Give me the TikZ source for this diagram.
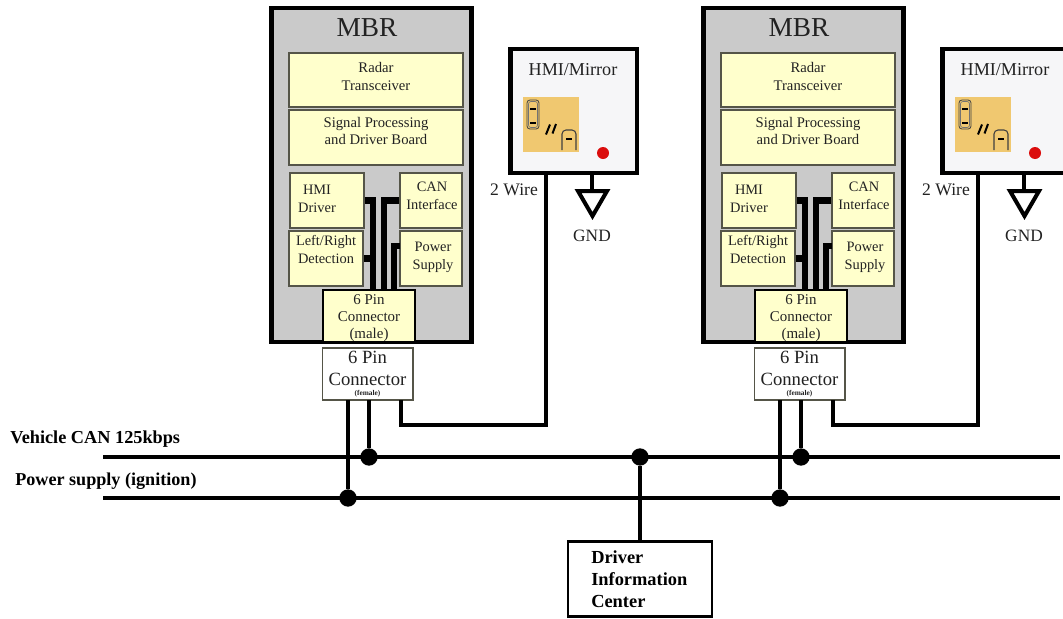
\documentclass[tikz,border=0pt]{standalone}
\usepackage{fontspec}
\setmainfont{Liberation Serif}
\definecolor{boxyellow}{HTML}{FFFFCC}
\definecolor{mbrgrey}{HTML}{CACACA}
\definecolor{hmibg}{HTML}{F6F6F8}
\definecolor{iconor}{HTML}{F0C870}
\definecolor{inkc}{HTML}{222222}
\definecolor{edgec}{HTML}{555548}
\newcommand{\fpx}[1]{\fontsize{#1}{#1}\selectfont}
\tikzset{
  x=0.75pt,y=-0.75pt,
  yb/.style={draw=edgec,line width=1.1pt,fill=boxyellow,inner sep=0pt},
  txt/.style={text=inkc,align=center,inner sep=0pt},
  wire/.style={line width=3pt,draw=black},
  inwire/.style={line width=4.8pt,draw=black},
  bus/.style={line width=2.9pt,draw=black},
  dot/.style={circle,fill=black,inner sep=0pt,minimum size=13pt},
}
\begin{document}
\begin{tikzpicture}[line join=miter]
\useasboundingbox (0,0) rectangle (1063,618);
\clip (0,0) rectangle (1063,618);
\fill[white] (0,0) rectangle (1063,618);

% buses
\coordinate (canL) at (103,457);
\coordinate (canR) at (1060,457);
\coordinate (pwrL) at (103,498);
\coordinate (pwrR) at (1060,498);
\draw[bus] (canL) -- (canR);
\draw[bus] (pwrL) -- (pwrR);
\node[anchor=west,inner sep=0pt,text=black,font=\fpx{13.7}\bfseries] (lblcan) at (10,439) {Vehicle CAN 125kbps};
\node[anchor=west,inner sep=0pt,text=black,font=\fpx{13.6}\bfseries] (lblpwr) at (15,481) {Power supply (ignition)};

% driver information center
\node[draw=black,line width=2.2pt,fill=white,minimum width=108pt,minimum height=56pt,inner sep=0pt] (dic) at (640,579) {};
\node[anchor=west,align=left,inner sep=0pt,text=black,font=\fpx{13.8}\bfseries,execute at begin node={\setlength{\baselineskip}{16.5pt}}] (dictext) at (591,579.5) {Driver\\Information\\Center};
\node[dot] (jc) at (640,457) {};
\draw[bus] (jc) -- (dic.north);

\foreach \o/\s in {0/a,432/b}{
  \begin{scope}[xshift=\o*0.75pt]
    % MBR
    \node[draw=black,line width=3.3pt,fill=mbrgrey,minimum width=150pt,minimum height=250.5pt,inner sep=0pt] (mbr\s) at (371.5,175) {};
    \node[txt,font=\fpx{20.5}] (mbrt\s) at (367,27.5) {MBR};
    \node[yb,minimum width=130.5pt,minimum height=40.5pt] (rad\s) at (376,80) {};
    \node[txt,font=\fpx{11},execute at begin node={\setlength{\baselineskip}{12.8pt}}] (radt\s) at (376,76.5) {Radar\\Transceiver};
    \node[yb,minimum width=130.5pt,minimum height=41pt] (sig\s) at (376,137.5) {};
    \node[txt,font=\fpx{11},execute at begin node={\setlength{\baselineskip}{12.8pt}}] (sigt\s) at (376,131) {Signal Processing\\and Driver Board};
    \node[yb,minimum width=55.5pt,minimum height=41pt] (hd\s) at (327,200.5) {};
    \node[txt,font=\fpx{10.8},align=center,execute at begin node={\setlength{\baselineskip}{13.5pt}}] (hdt\s) at (317,199) {HMI\\Driver};
    \node[yb,minimum width=46.5pt,minimum height=41pt] (cn\s) at (431,200.5) {};
    \node[txt,font=\fpx{10.8},execute at begin node={\setlength{\baselineskip}{13.5pt}}] (cnt\s) at (432,196) {CAN\\Interface};
    \node[yb,minimum width=55.5pt,minimum height=41pt] (lr\s) at (326,258.5) {};
    \node[txt,font=\fpx{10.8},execute at begin node={\setlength{\baselineskip}{13.5pt}}] (lrt\s) at (326,249) {Left/Right\\Detection};
    \node[yb,minimum width=46.5pt,minimum height=41pt] (ps\s) at (431,258.5) {};
    \node[txt,font=\fpx{10.8},execute at begin node={\setlength{\baselineskip}{13.5pt}}] (pst\s) at (433,257) {Power\\Supply};
    % internal wires
    \coordinate (w1\s) at (373,292);
    \coordinate (w2\s) at (384,292);
    \coordinate (w3\s) at (394,292);
    \coordinate (w4\s) at (400,246);
    \draw[inwire] (hd\s.east) -| (w1\s);
    \draw[inwire] (lr\s.east) -| (w1\s);
    \draw[inwire] (cn\s.west) -| (w2\s);
    \draw[inwire] (w4\s) -| (w3\s);
    % male
    \node[draw=black,line width=1.1pt,fill=boxyellow,minimum width=69pt,minimum height=39pt,inner sep=0pt] (ml\s) at (369,316) {};
    \node[txt,font=\fpx{11.2},execute at begin node={\setlength{\baselineskip}{13pt}}] (mlt\s) at (369,318) {6 Pin\\Connector\\(male)};
    % female
    \node[draw=edgec,line width=1pt,fill=white,minimum width=68pt,minimum height=39pt,inner sep=0pt] (fm\s) at (367.5,374) {};
    \node[txt,font=\fpx{14},execute at begin node={\setlength{\baselineskip}{16.5pt}}] (fmt\s) at (367.5,368.5) {6 Pin\\Connector};
    \node[txt,font=\fpx{5.5}\bfseries] (fms\s) at (367.5,394) {(female)};
    % junctions
    \node[dot] (j1\s) at (369,457) {};
    \node[dot] (j2\s) at (348,498) {};
    \coordinate (f1\s) at (348,400);
    \coordinate (f2\s) at (369,400);
    \coordinate (f3\s) at (400.5,400);
    \coordinate (f4\s) at (546,425);
    \draw[wire] (f1\s) -- (j2\s);
    \draw[wire] (f2\s) -- (j1\s);
    % HMI
    \node[draw=black,line width=3.5pt,fill=hmibg,minimum width=95pt,minimum height=93pt,inner sep=0pt] (hmi\s) at (573.5,111) {};
    \node[txt,font=\fpx{13.6}] (hmit\s) at (573,70) {HMI/Mirror};
    \draw[wire] (f3\s) |- (f4\s) -- (hmi\s.south -| f4\s);
    \node[txt,font=\fpx{13.2}] (wt\s) at (514,190) {2 Wire};
    % icon
    \fill[iconor] (523,97) rectangle (579,152);
    \draw[black!75,line width=0.6pt,rounded corners=2.2pt] (527,100) rectangle (539,129);
    \draw[black!55,line width=0.5pt,rounded corners=1.8pt] (528.5,101.5) rectangle (537.5,127.5);
    \draw[black,line width=2pt] (530,109) -- (536,109);
    \draw[black,line width=2pt] (530,123) -- (536,123);
    \draw[black!75,line width=0.8pt,rounded corners=3pt] (562,150) -- (562,130) -- (576,130) -- (576,150);
    \draw[black,line width=2pt] (566,139) -- (572,139);
    \draw[black,line width=1.5pt] (546,134.5) -- (550,124.5);
    \draw[black,line width=1.5pt] (552.5,133.5) -- (556,124);
    \fill[red!85!black!95] (603,153) circle[radius=6];
    % GND
    \coordinate (g1\s) at (592,191);
    \draw[line width=3.6pt,draw=black] (hmi\s.south -| g1\s) -- (g1\s);
    \draw[black,line width=3pt,fill=white] (578,191) -- (607,191) -- (592.5,216) -- cycle;
    \node[txt,font=\fpx{13}] (gt\s) at (592,236) {GND};
  \end{scope}
}
\end{tikzpicture}
\end{document}
